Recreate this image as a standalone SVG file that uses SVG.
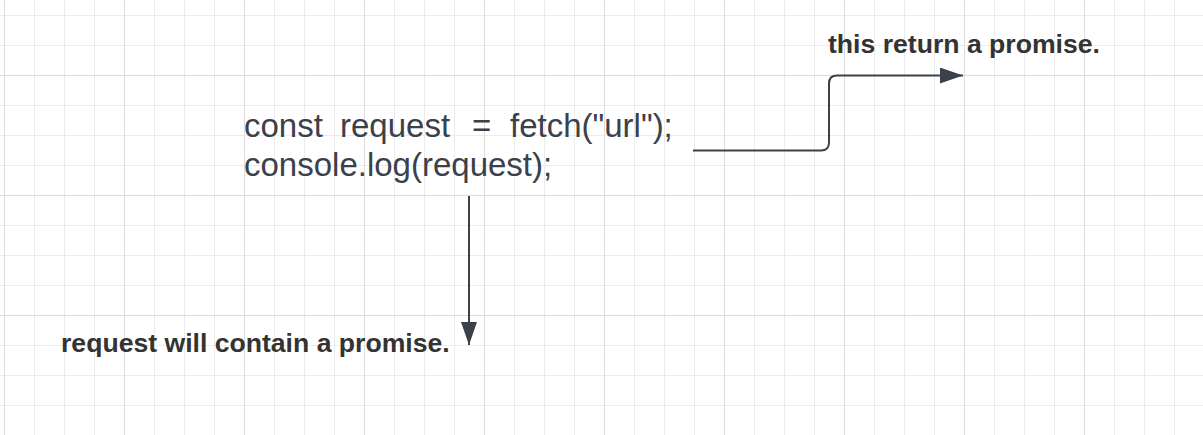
<svg xmlns="http://www.w3.org/2000/svg" width="1203" height="435" viewBox="0 0 1203 435">
  <style>
    .code { font-family: "Liberation Sans", Arial, sans-serif; font-size: 33px; fill: #3a414a; }
    .label { font-family: "Liberation Sans", Arial, sans-serif; font-size: 26.6px; font-weight: bold; fill: #333333; }
    .conn { fill: none; stroke: #3a414a; stroke-width: 2; }
  </style>
  <defs>
    <pattern id="minor" patternUnits="userSpaceOnUse" x="4" y="15" width="30" height="30">
      <path d="M0.5 0 V30 M0 0.5 H30" stroke="#ececec" stroke-width="1" fill="none"/>
    </pattern>
    <pattern id="major" patternUnits="userSpaceOnUse" x="4" y="75" width="120" height="120">
      <path d="M0.5 0 V120 M0 0.5 H120" stroke="#dcdcdc" stroke-width="1" fill="none"/>
    </pattern>
    <marker id="arrow" markerUnits="userSpaceOnUse" markerWidth="23" markerHeight="16" refX="23" refY="8" orient="auto">
      <path d="M0 0 L23 8 L0 16 Z" fill="#3a414a"/>
    </marker>
  </defs>
  <rect width="1203" height="435" fill="#ffffff"/>
  <rect width="1203" height="435" fill="url(#minor)"/>
  <rect width="1203" height="435" fill="url(#major)"/>

  <g id="connectors">
    <path class="conn" d="M693 150.5 H821 Q829 150.5 829 142.5 V83.5 Q829 75.5 837 75.5 H963" marker-end="url(#arrow)"/>
    <path class="conn" d="M469 196 V345" marker-end="url(#arrow)"/>
  </g>

  <g id="code">
    <text class="code" y="137"><tspan x="244">const</tspan><tspan x="340">request</tspan><tspan x="472">=</tspan><tspan x="510">fetch("url");</tspan></text>
    <text class="code" x="244" y="176">console.log(request);</text>
  </g>

  <g id="label-return">
    <text class="label" x="828" y="53">this return a promise.</text>
  </g>

  <g id="label-request">
    <text class="label" x="61" y="352">request will contain a promise.</text>
  </g>
</svg>
